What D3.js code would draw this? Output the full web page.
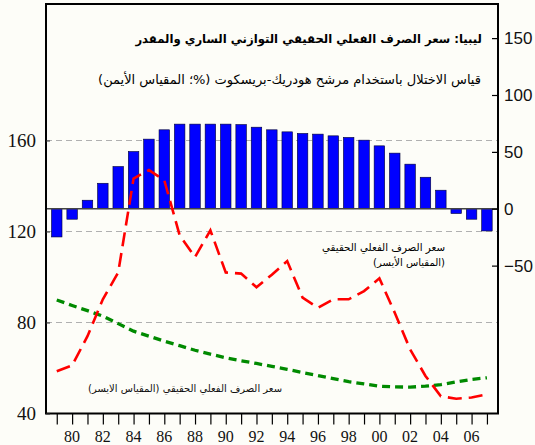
<!DOCTYPE html>
<html><head><meta charset="utf-8">
<script src="https://cdn.jsdelivr.net/npm/d3@7"></script>
<style>html,body{margin:0;padding:0;background:#fdfdf8;}svg{display:block;}</style>
</head><body>
<svg id="c" width="535" height="445"></svg>
<script>
const years = [1979,1980,1981,1982,1983,1984,1985,1986,1987,1988,1989,1990,1991,1992,1993,1994,1995,1996,1997,1998,1999,2000,2001,2002,2003,2004,2005,2006,2007];
const gapPct = [-24.8,-9.2,7.5,22.4,37.1,50.3,61.2,69.4,74.4,74.4,74.4,74.4,74.0,71.7,69.4,67.6,66.2,65.6,64.1,62.7,60.3,55.3,48.9,39.2,27.7,16.3,-4.2,-9.2,-19.5];
const actualReer = [58.6,61.1,74,90.2,102,143.3,147,142.5,118.3,108.8,120.5,102,101.5,95.5,101,107,90.9,86.5,90.2,90.2,93.8,99.4,84.3,68.2,56.5,47.6,46.5,47,48.4];
const equilReer = [89.9,87.5,85.2,82.8,79.5,76.2,74,71.8,69.8,67.8,66.1,64.5,63.2,62,60.7,59.4,58,56.7,55.3,54,53,52,51.7,51.6,52,52.7,53.9,55,55.7];
const leftTicks = [40,80,120,160];
const rightTicks = [-50,0,50,100,150];
const gridTicks = [80,120,160];
const xLabelYears = [1980,1982,1984,1986,1988,1990,1992,1994,1996,1998,2000,2002,2004,2006];
const titleText = "ليبيا: سعر الصرف الفعلي الحقيقي التوازني الساري والمقدر";
const subtitleText = "قياس الاختلال باستخدام مرشح هودريك-بريسكوت (%؛ المقياس الأيمن)";
const label1a = "سعر الصرف الفعلي الحقيقي";
const label1b = "(المقياس الأيسر)";
const label2 = "سعر الصرف الفعلي الحقيقي (المقياس الايسر)";

const svg = d3.select("#c");
const L = 46, R = 498, T = 4, B = 413.5;
const x = d3.scaleLinear().domain([1978.3, 2007.72]).range([L, R]);
const yL = d3.scaleLinear().domain([40, 220]).range([B, T]);
const yR = d3.scaleLinear().domain([-180, 180]).range([B, T]);

// gridlines
svg.append("g").selectAll("line").data(gridTicks).join("line")
  .attr("x1", L).attr("x2", R).attr("y1", d => yL(d)).attr("y2", d => yL(d))
  .attr("stroke", "#b0b0b0").attr("stroke-width", 1).attr("stroke-dasharray", "6,4");

// bars
const bw = 10.5;
svg.append("g").selectAll("rect").data(years).join("rect")
  .attr("x", (d) => x(d) - bw / 2)
  .attr("width", bw)
  .attr("y", (d, i) => yR(Math.max(0, gapPct[i])))
  .attr("height", (d, i) => Math.abs(yR(gapPct[i]) - yR(0)))
  .attr("fill", "#0000ff").attr("stroke", "#000033").attr("stroke-width", 0.6);

// zero line
svg.append("line").attr("x1", L).attr("x2", R).attr("y1", yR(0)).attr("y2", yR(0))
  .attr("stroke", "#444").attr("stroke-width", 1.5);

// lines
const lineGen = arr => d3.line().x((d, i) => x(years[i])).y(d => yL(d))(arr);
svg.append("path").attr("d", lineGen(equilReer)).attr("fill", "none")
  .attr("stroke", "#008a00").attr("stroke-width", 3.3).attr("stroke-dasharray", "8,5");
svg.append("path").attr("d", lineGen(actualReer)).attr("fill", "none")
  .attr("stroke", "#ff0000").attr("stroke-width", 2.6).attr("stroke-dasharray", "14,7");

// frame
svg.append("rect").attr("x", L).attr("y", T).attr("width", R - L).attr("height", B - T)
  .attr("fill", "none").attr("stroke", "#000").attr("stroke-width", 2);

// left axis
const gl = svg.append("g").attr("transform", `translate(${L},0)`)
  .call(d3.axisLeft(yL).tickValues(leftTicks).tickSize(-4).tickPadding(10));
gl.select(".domain").remove();
gl.selectAll("text").attr("font-family", "Liberation Serif, serif").attr("font-size", 19).attr("fill", "#111");
gl.selectAll("line").attr("stroke", "#333");

// right axis
const gr = svg.append("g").attr("transform", `translate(${R},0)`)
  .call(d3.axisRight(yR).tickValues(rightTicks).tickSize(-6).tickPadding(6));
gr.select(".domain").remove();
gr.selectAll("text").attr("font-family", "Liberation Sans, Arial, sans-serif").attr("font-size", 17).attr("fill", "#111");
gr.selectAll("line").attr("stroke", "#000").attr("stroke-width", 1.2);

// bottom axis ticks
const gb = svg.append("g").attr("transform", `translate(0,${B})`)
  .call(d3.axisBottom(x).tickValues(years).tickSize(11).tickFormat(""));
gb.select(".domain").remove();
gb.selectAll("line").attr("stroke", "#000").attr("stroke-width", 1.2);
svg.append("g").selectAll("text").data(xLabelYears).join("text")
  .attr("x", d => x(d)).attr("y", 442).attr("text-anchor", "middle")
  .attr("font-family", "Liberation Serif, serif").attr("font-size", 16).attr("fill", "#111")
  .text(d => String(d % 100).padStart(2, "0"));

// RTL text fitted to measured width
function rtlText(str, xr, yb, targetW, weight, base) {
  const t = svg.append("text").attr("x", xr).attr("y", yb)
    .attr("direction", "rtl").attr("unicode-bidi", "embed").attr("text-anchor", "start")
    .attr("font-family", "DejaVu Sans, sans-serif").attr("font-weight", weight)
    .attr("font-size", base).attr("fill", "#000").text(str);
  const w = t.node().getComputedTextLength();
  t.attr("font-size", base * targetW / w);
  return t;
}
rtlText(titleText, 482, 43, 347, "bold", 14);
rtlText(subtitleText, 481, 84, 383, "normal", 13);
rtlText(label1a, 445, 251, 123, "normal", 12);
rtlText(label1b, 445, 266, 72, "normal", 12);
rtlText(label2, 282, 392, 194, "normal", 11).attr("fill", "#111");
</script>
</body></html>
